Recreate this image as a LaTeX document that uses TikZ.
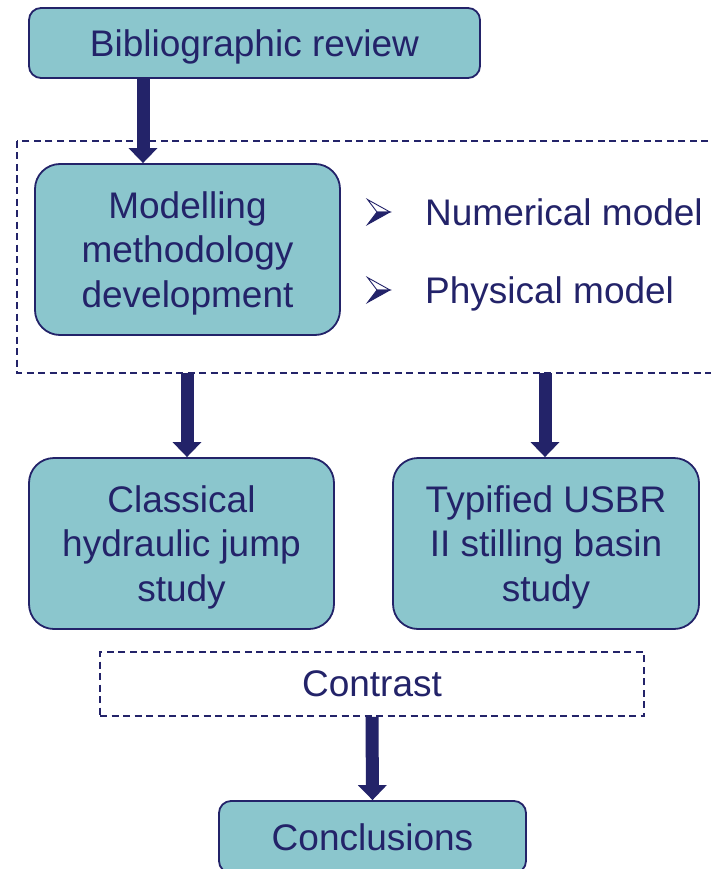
\documentclass[tikz,border=0pt]{standalone}
\usepackage{fontspec}
\setmainfont{Liberation Sans}
\usetikzlibrary{arrows.meta}
\definecolor{navy}{RGB}{35,35,105}
\definecolor{teal}{RGB}{139,198,205}
\tikzset{
  box/.style={draw=navy, line width=1.8pt, fill=teal, text=navy, align=center,
    inner sep=0pt, text depth=0pt, font=\fontsize{37}{44.5}\selectfont},
  bigbox/.style={box, rounded corners=25pt, minimum width=305pt, minimum height=171pt},
  smallbox/.style={box, rounded corners=12pt},
  dashframe/.style={draw=navy, line width=1.6pt, dash pattern=on 7pt off 4.5pt},
  bigarrow/.style={draw=navy, line width=13pt, -{Triangle[width=28pt,length=15pt]}},
  lbl/.style={text=navy, inner sep=0pt, font=\fontsize{37}{44}\selectfont},
  bulup/.style={draw=navy, fill=white, line width=0.9pt, line join=miter},
  buldown/.style={draw=navy, fill=navy, line width=0.9pt, line join=miter}
}
\begin{document}
\begin{tikzpicture}[x=1pt,y=-1pt]
\clip (0,0) rectangle (711,869);
\fill[white] (0,0) rectangle (711,869);
% dashed frames
\draw[dashframe] (17,141) rectangle (740,373);
\node[dashframe, minimum width=544pt, minimum height=64pt, inner sep=0pt,
  text=navy, font=\fontsize{37}{44}\selectfont] (con) at (372,684) {Contrast};
% boxes
\node[smallbox, minimum width=451pt, minimum height=70pt] (bib) at (254.5,43) {Bibliographic review};
\node[bigbox] (mod) at (187.5,249.5) {Modelling\\methodology\\development};
\node[bigbox] (cla) at (181.5,543.5) {Classical\\hydraulic jump\\study};
\node[bigbox, minimum width=306pt] (typ) at (546,543.5) {Typified USBR\\II stilling basin\\study};
\node[smallbox, minimum width=307pt, minimum height=72pt] (cnc) at (372.5,837) {Conclusions};
% bullets (3D arrowhead marks)
\foreach \y in {212,290}{
  \draw[bulup] (367.5,\y-12.5) -- (390,\y) -- (377,\y) -- cycle;
  \draw[buldown] (367.5,\y+12.5) -- (390,\y) -- (377,\y) -- cycle;
}
\node[lbl, anchor=base west] (num) at (425,225) {Numerical model};
\node[lbl, anchor=base west] (phy) at (425,303) {Physical model};
% arrows
\coordinate (a1) at (143,0);
\coordinate (a2) at (187,0);
\coordinate (a3) at (545,0);
\coordinate (fb) at (0,373);
\draw[bigarrow] (bib.south -| a1) -- (mod.north -| a1);
\draw[bigarrow] (fb -| a2) -- (cla.north -| a2);
\draw[bigarrow] (fb -| a3) -- (typ.north -| a3);
\draw[bigarrow] (con.south) -- (cnc.north);
\end{tikzpicture}
\end{document}
